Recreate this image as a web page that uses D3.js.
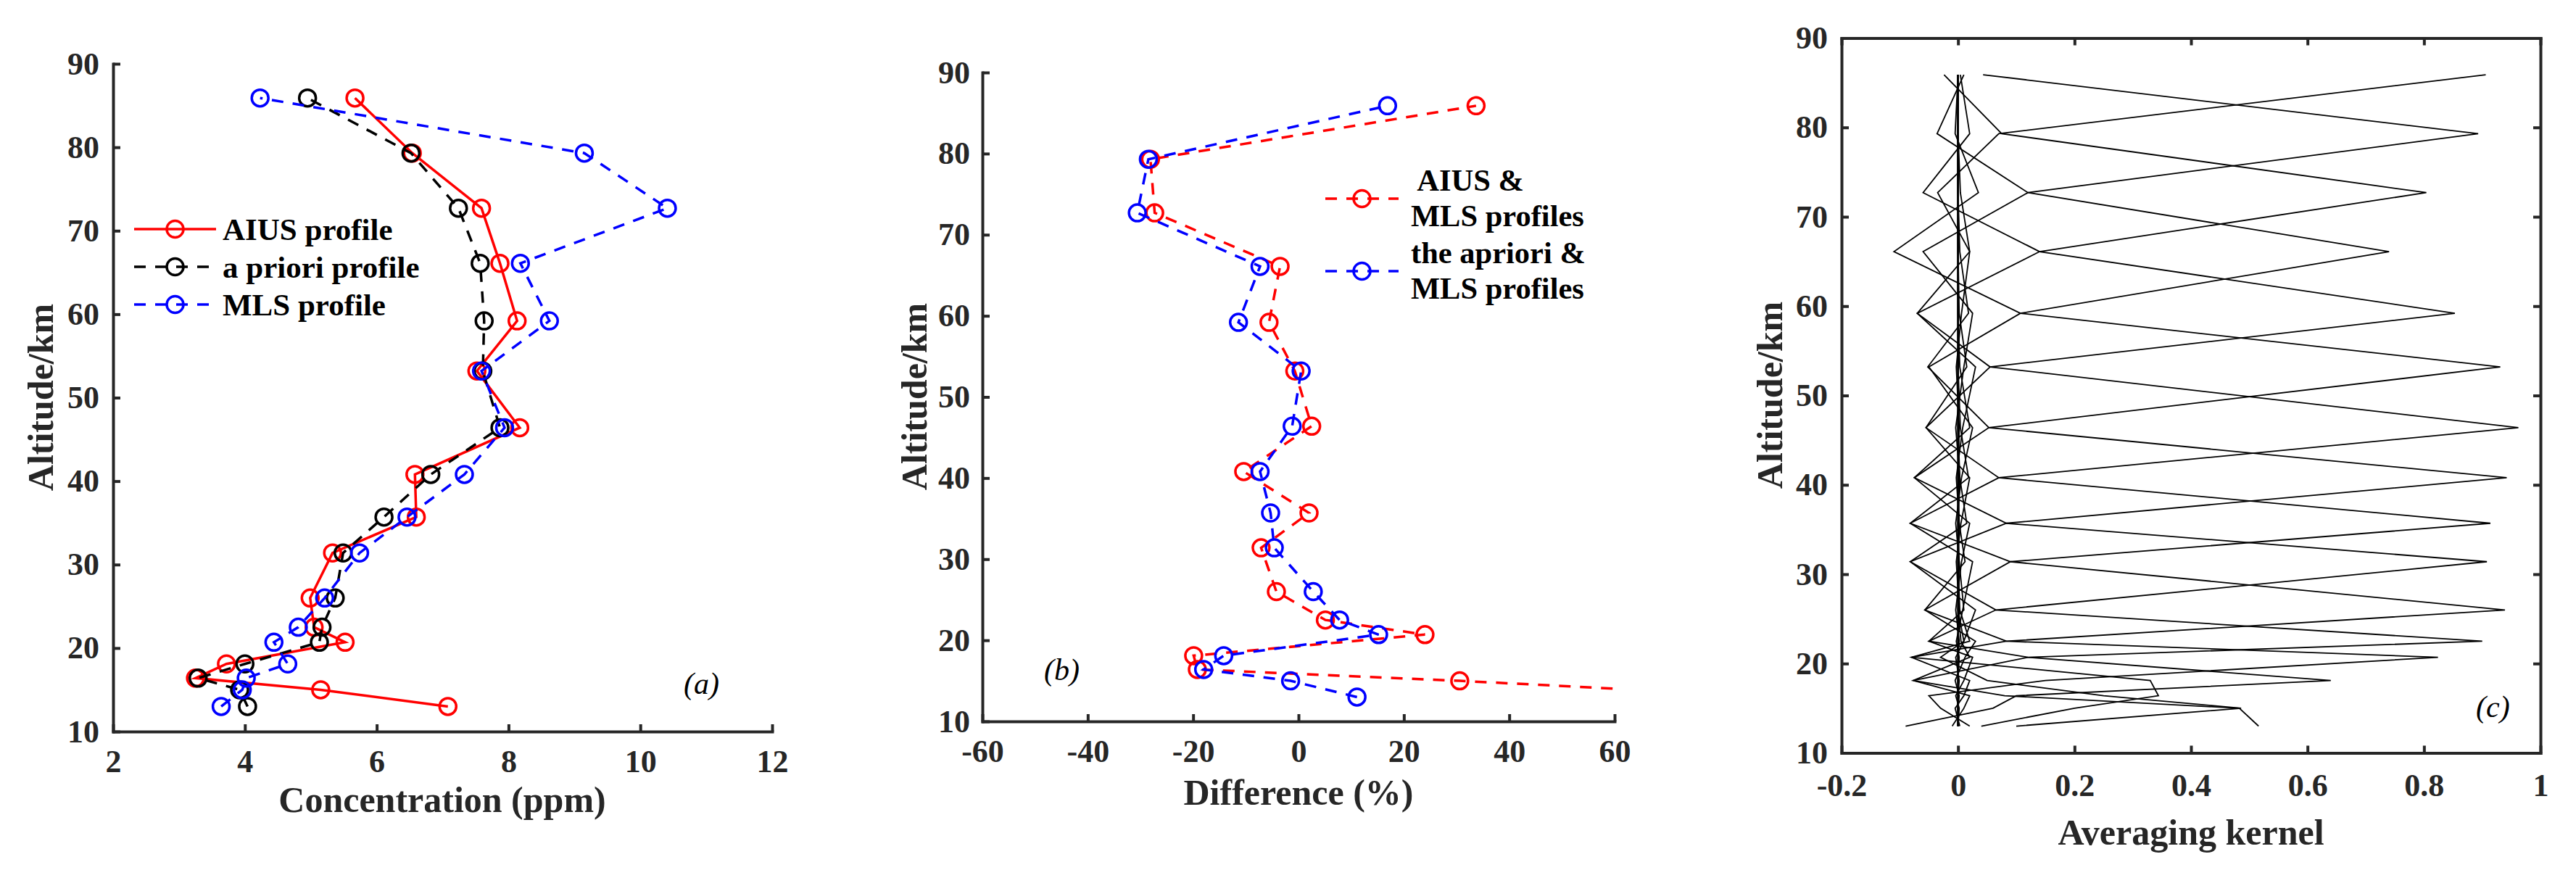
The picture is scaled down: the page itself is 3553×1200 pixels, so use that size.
<!DOCTYPE html>
<html>
<head>
<meta charset="utf-8">
<script src="https://cdn.jsdelivr.net/npm/d3@7"></script>
<style>
  body { margin: 0; background: #fff; }
  svg { display: block; }
</style>
</head>
<body>
<svg id="chart" width="3553" height="1200"></svg>
<script>
// retrieval altitude grid (km), bottom to top
const altitudes = [13.0, 15.0, 16.4, 18.1, 20.7, 22.5, 26.0, 31.4, 35.7, 40.8, 46.4, 53.2, 59.2, 66.1, 72.7, 79.3, 85.9];

// (a) concentration profiles, ppm
const aiusProfile    = [7.08, 5.15, 3.25, 3.72, 5.52, 5.05, 4.99, 5.33, 6.60, 6.58, 8.17, 7.52, 8.13, 7.87, 7.59, 6.54, 5.67];
const aprioriProfile = [4.04, 3.92, 3.29, 4.00, 5.13, 5.17, 5.37, 5.49, 6.11, 6.82, 7.87, 7.61, 7.63, 7.57, 7.24, 6.52, 4.95];
const mlsProfile     = [3.64, 3.96, 4.02, 4.65, 4.44, 4.81, 5.21, 5.74, 6.46, 7.33, 7.94, 7.59, 8.62, 8.18, 10.41, 9.15, 4.23];

// (b) relative differences, %
const diffAiusMls    = [91.5, 30.6, -19.2, -19.9, 24.0, 5.1, -4.2, -7.1, 2.0, -10.4, 2.5, -0.7, -5.6, -3.5, -27.3, -28.1, 33.7];
const diffAprioriMls = [11.1, -1.5, -18.0, -14.2, 15.2, 7.8, 2.8, -4.6, -5.3, -7.3, -1.2, 0.5, -11.4, -7.3, -30.6, -28.5, 16.9];

// (c) averaging kernel rows, one row per retrieval level, values at each altitude
const kernelRows = [
  [0.516, 0.483, 0.080, -0.077, 0.020, 0.005, 0, 0, 0, 0, 0, 0, 0, 0, 0, 0, 0],
  [0.100, 0.486, 0.250, 0.050, -0.030, 0.010, 0, 0, 0, 0, 0, 0, 0, 0, 0, 0, 0],
  [0.040, 0.200, 0.344, 0.330, -0.080, 0.020, 0.003, 0, 0, 0, 0, 0, 0, 0, 0, 0, 0],
  [-0.090, 0.060, 0.100, 0.640, 0.120, -0.050, 0.010, 0.002, 0, 0, 0, 0, 0, 0, 0, 0, 0],
  [0.020, -0.030, -0.050, 0.150, 0.824, 0.083, -0.057, 0.012, 0.002, 0, 0, 0, 0, 0, 0, 0, 0],
  [-0.010, 0.010, 0.020, -0.077, 0.120, 0.900, 0.065, -0.082, 0.015, 0.003, 0, 0, 0, 0, 0, 0, 0],
  [0.003, -0.005, 0.010, 0.020, -0.080, 0.083, 0.939, 0.090, -0.082, 0.018, 0.004, 0, 0, 0, 0, 0, 0],
  [0, 0.002, -0.004, 0.010, 0.025, -0.050, 0.065, 0.908, 0.083, -0.075, 0.020, 0.003, 0, 0, 0, 0, 0],
  [0, 0, 0.002, -0.005, 0.012, 0.030, -0.057, 0.090, 0.914, 0.070, -0.055, 0.015, 0.002, 0, 0, 0, 0],
  [0, 0, 0, 0.002, -0.004, 0.010, 0.030, -0.082, 0.083, 0.942, 0.053, -0.052, 0.018, 0.003, 0, 0, 0],
  [0, 0, 0, 0, 0.002, -0.003, 0.008, 0.025, -0.082, 0.070, 0.962, 0.055, -0.070, 0.020, 0.004, 0, 0],
  [0, 0, 0, 0, 0, 0.002, -0.004, 0.006, 0.020, -0.075, 0.053, 0.931, 0.107, -0.110, 0.035, -0.005, 0],
  [0, 0, 0, 0, 0, 0, 0.002, -0.003, 0.005, 0.020, -0.055, 0.055, 0.853, 0.140, -0.060, 0.020, 0.004],
  [0, 0, 0, 0, 0, 0, 0, 0.002, -0.004, 0.006, 0.025, -0.050, 0.107, 0.740, 0.120, -0.036, 0.010],
  [0, 0, 0, 0, 0, 0, 0, 0, 0.002, -0.003, 0.008, 0.030, -0.070, 0.140, 0.804, 0.075, -0.024],
  [0, 0, 0, 0, 0, 0, 0, 0, 0, 0.003, -0.004, 0.010, 0.025, -0.060, 0.120, 0.893, 0.043],
  [0, 0, 0, 0, 0, 0, 0, 0, 0, 0, 0.002, -0.003, 0.006, 0.020, -0.035, 0.070, 0.906]
];

const altTicks = [10, 20, 30, 40, 50, 60, 70, 80, 90];
const concTicks = [2, 4, 6, 8, 10, 12];
const diffTicks = [-60, -40, -20, 0, 20, 40, 60];
const akTicks = [-0.2, 0, 0.2, 0.4, 0.6, 0.8, 1];

const legendA = ["AIUS profile", "a priori profile", "MLS profile"];
const legendB = [[" AIUS &", "MLS profiles"], ["the apriori &", "MLS profiles"]];

const svg = d3.select("#chart");
const font = "'Liberation Serif', 'Times New Roman', serif";
const axisColor = "#262626";
svg.append("rect").attr("width", 3553).attr("height", 1200).attr("fill", "#fff");

// builds scales + axes for one panel
function panel(box, xDomain, xTicks, pad, boxed) {
  const x = d3.scaleLinear().domain(xDomain).range([box.left, box.right]);
  const y = d3.scaleLinear().domain([10, 90]).range([box.bottom, box.top]);

  const gx = svg.append("g").attr("transform", `translate(0,${box.bottom})`)
    .call(d3.axisBottom(x).tickValues(xTicks).tickFormat(d => String(d))
      .tickSizeInner(-10).tickSizeOuter(0).tickPadding(pad.x));
  const gy = svg.append("g").attr("transform", `translate(${box.left},0)`)
    .call(d3.axisLeft(y).tickValues(altTicks).tickFormat(d => String(d))
      .tickSizeInner(-10).tickSizeOuter(0).tickPadding(pad.y));
  const all = [gx, gy];

  if (boxed) {
    const gt = svg.append("g").attr("transform", `translate(0,${box.top})`)
      .call(d3.axisTop(x).tickValues(xTicks).tickFormat("").tickSizeInner(-10).tickSizeOuter(0));
    const gr = svg.append("g").attr("transform", `translate(${box.right},0)`)
      .call(d3.axisRight(y).tickValues(altTicks).tickFormat("").tickSizeInner(-10).tickSizeOuter(0));
    all.push(gt, gr);
  }

  all.forEach(g => {
    g.attr("font-family", font).attr("font-size", 44);
    g.select(".domain").attr("stroke", axisColor).attr("stroke-width", 4).attr("stroke-linecap", "square");
    g.selectAll(".tick line").attr("stroke", axisColor).attr("stroke-width", 4);
    g.selectAll(".tick text")
      .attr("fill", axisColor)
      .style("font-family", font).style("font-size", "44px").style("font-weight", "bold");
  });
  return { x, y, box };
}

function title(txt, xPos, yPos, rotate) {
  svg.append("text")
    .attr("transform", `translate(${xPos},${yPos})` + (rotate ? " rotate(-90)" : ""))
    .attr("text-anchor", "middle")
    .style("font-family", font).style("font-size", "50px").style("font-weight", "bold")
    .attr("fill", axisColor)
    .text(txt);
}

function tag(txt, xPos, yPos) {
  svg.append("text").attr("x", xPos).attr("y", yPos)
    .style("font-family", font).style("font-size", "42px").style("font-style", "italic")
    .attr("fill", "#000").text(txt);
}

function profile(p, values, color, dash, clipId) {
  const pts = values.map((v, i) => [v, altitudes[i]]);
  const g = svg.append("g");
  if (clipId) g.attr("clip-path", `url(#${clipId})`);
  g.append("path")
    .attr("d", d3.line().x(d => p.x(d[0])).y(d => p.y(d[1]))(pts))
    .attr("fill", "none").attr("stroke", color).attr("stroke-width", 3.5)
    .attr("stroke-dasharray", dash);
  g.selectAll("circle").data(pts).enter().append("circle")
    .attr("cx", d => p.x(d[0])).attr("cy", d => p.y(d[1])).attr("r", 11.5)
    .attr("fill", "none").attr("stroke", color).attr("stroke-width", 3.5);
}

function legendKey(x0, x1, yPos, color, dash) {
  svg.append("line").attr("x1", x0).attr("x2", x1).attr("y1", yPos).attr("y2", yPos)
    .attr("stroke", color).attr("stroke-width", 3.5).attr("stroke-dasharray", dash);
  svg.append("circle").attr("cx", (x0 + x1) / 2).attr("cy", yPos).attr("r", 11.5)
    .attr("fill", "none").attr("stroke", color).attr("stroke-width", 3.5);
}

const dashed = "16,13";

// ---------- (a) concentration ----------
const pa = panel({ left: 156, right: 1065, top: 88, bottom: 1009 }, [2, 12], concTicks, { x: 25, y: 19 }, false);
profile(pa, aiusProfile, "#ff0000", null);
profile(pa, aprioriProfile, "#000000", dashed);
profile(pa, mlsProfile, "#0000ff", dashed);
title("Concentration (ppm)", 610, 1120, false);
title("Altitude/km", 73, 548, true);
tag("(a)", 943, 957);

const colorsA = ["#ff0000", "#000000", "#0000ff"];
const dashA = [null, dashed, dashed];
legendA.forEach((lab, i) => {
  const yy = 316 + i * 52;
  legendKey(185, 298, yy, colorsA[i], dashA[i]);
  svg.append("text").attr("x", 307).attr("y", yy + 15)
    .style("font-family", font).style("font-size", "43px").style("font-weight", "bold")
    .attr("fill", "#000").text(lab);
});

// ---------- (b) difference ----------
const pb = panel({ left: 1355, right: 2227, top: 100, bottom: 995 }, [-60, 60], diffTicks, { x: 25, y: 17 }, false);
svg.append("clipPath").attr("id", "clipB").append("rect")
  .attr("x", pb.box.left).attr("y", pb.box.top)
  .attr("width", pb.box.right - pb.box.left).attr("height", pb.box.bottom - pb.box.top);
profile(pb, diffAiusMls, "#ff0000", dashed, "clipB");
profile(pb, diffAprioriMls, "#0000ff", dashed, "clipB");
title("Difference (%)", 1791, 1110, false);
title("Altitude/km", 1278, 547, true);
tag("(b)", 1440, 938);

const colorsB = ["#ff0000", "#0000ff"];
legendB.forEach((lines, i) => {
  legendKey(1828, 1929, 274 + i * 100, colorsB[i], dashed);
  lines.forEach((ln, j) => {
    svg.append("text").attr("x", 1946).attr("y", 263 + i * 100 + j * 49)
      .attr("xml:space", "preserve")
      .style("font-family", font).style("font-size", "42.5px").style("font-weight", "bold")
      .attr("fill", "#000").text(ln);
  });
});

// ---------- (c) averaging kernels ----------
const pc = panel({ left: 2540, right: 3504, top: 52.5, bottom: 1038.5 }, [-0.2, 1], akTicks, { x: 28, y: 19 }, true);
const akLine = d3.line().x(d => pc.x(d[0])).y(d => pc.y(d[1]));
svg.append("g").selectAll("path").data(kernelRows).enter().append("path")
  .attr("d", row => akLine(row.map((v, i) => [v, altitudes[i]])))
  .attr("fill", "none").attr("stroke", "#000").attr("stroke-width", 1.8);
title("Averaging kernel", 3022, 1165, false);
title("Altitude/km", 2458, 545, true);
tag("(c)", 3415, 989);
</script>
</body>
</html>
